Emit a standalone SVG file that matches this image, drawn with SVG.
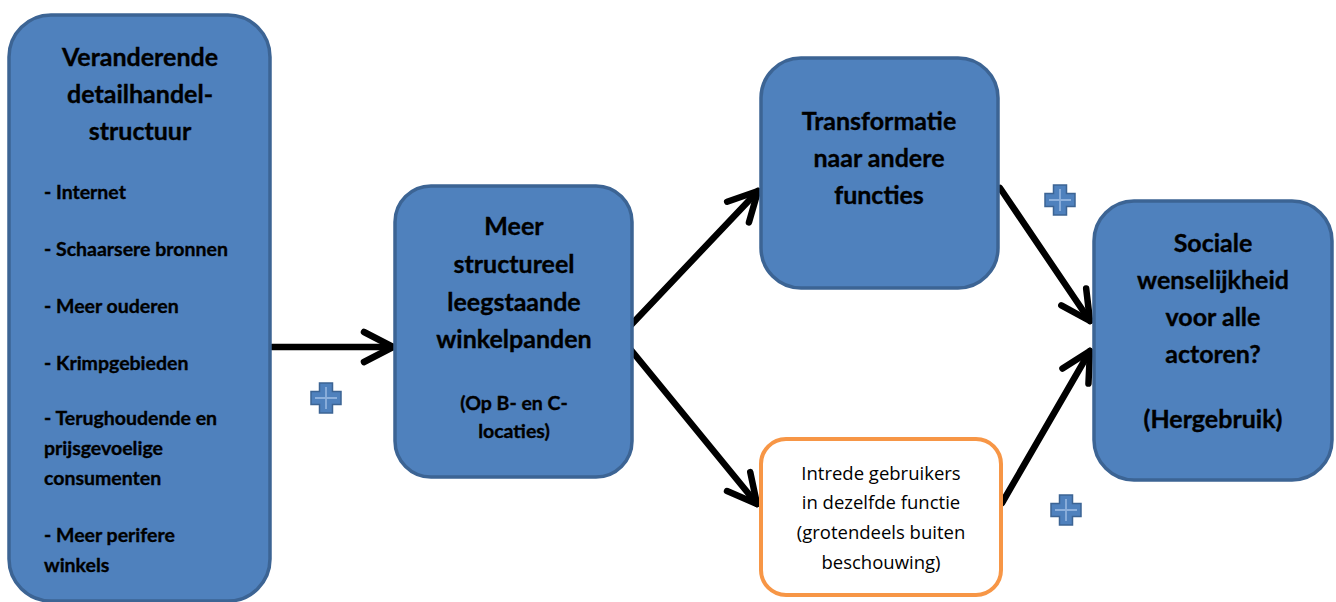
<svg xmlns="http://www.w3.org/2000/svg" width="1336" height="602" viewBox="0 0 1336 602">
<style>
.box{fill:#4f81bd;stroke:#3c6494;stroke-width:3.5}
.obox{fill:#ffffff;stroke:#f79646;stroke-width:4}
.t{font-family:Lato,"Liberation Sans",sans-serif;font-weight:bold;fill:#000;stroke:#000;stroke-width:0.35;text-anchor:middle}
.big{font-size:25px}
.sm{font-size:19.5px}
.l{text-anchor:start}
.n{font-family:"Open Sans","Liberation Sans",sans-serif;font-size:18.5px;fill:#000;text-anchor:middle}
.arr{stroke:#000;stroke-width:6.5;fill:none;stroke-linecap:round;stroke-linejoin:round;marker-end:url(#chev)}
</style>
<defs>
<marker id="chev" markerUnits="userSpaceOnUse" viewBox="-34 -20 40 40" markerWidth="40" markerHeight="40" refX="0" refY="0" orient="auto">
<path d="M-29,-15 L0,0 L-29,15" fill="none" stroke="#000" stroke-width="6.5" stroke-linecap="round" stroke-linejoin="round"/>
</marker>
<g id="plus">
<path d="M-6.5,-15 h13 v8.5 h8.5 v13 h-8.5 v8.5 h-13 v-8.5 h-8.5 v-13 h8.5 z" fill="#4f81bd" stroke="#3c6494" stroke-width="1.5"/>
<path d="M0,-11 V11 M-11,0 H11" stroke="#8db0dc" stroke-width="1.8"/>
</g>
</defs>

<g id="connectors">
<line class="arr" x1="272" y1="347" x2="393" y2="347"/>
<line class="arr" x1="631" y1="325" x2="758" y2="191"/>
<line class="arr" x1="631" y1="350" x2="757" y2="504"/>
<line class="arr" x1="1000" y1="188" x2="1090" y2="321"/>
<line class="arr" x1="1002" y1="503" x2="1090" y2="351"/>
</g>

<g id="n1">
<rect class="box" x="9" y="15" width="261" height="586" rx="42"/>
<text class="t big" x="140" y="66">Veranderende</text>
<text class="t big" x="140" y="103">detailhandel-</text>
<text class="t big" x="140" y="140">structuur</text>
<text class="t sm l" x="44" y="199">- Internet</text>
<text class="t sm l" x="44" y="256">- Schaarsere bronnen</text>
<text class="t sm l" x="44" y="313">- Meer ouderen</text>
<text class="t sm l" x="44" y="370">- Krimpgebieden</text>
<text class="t sm l" x="44" y="425">- Terughoudende en</text>
<text class="t sm l" x="44" y="455">prijsgevoelige</text>
<text class="t sm l" x="44" y="485">consumenten</text>
<text class="t sm l" x="44" y="542">- Meer perifere</text>
<text class="t sm l" x="44" y="572">winkels</text>
</g>

<g id="n2">
<rect class="box" x="395" y="186" width="237" height="291" rx="36"/>
<text class="t big" x="514" y="235">Meer</text>
<text class="t big" x="514" y="273">structureel</text>
<text class="t big" x="514" y="311">leegstaande</text>
<text class="t big" x="514" y="348">winkelpanden</text>
<text class="t sm" x="514" y="410">(Op B- en C-</text>
<text class="t sm" x="514" y="438">locaties)</text>
</g>

<g id="n3">
<rect class="box" x="761" y="58" width="237" height="230" rx="40"/>
<text class="t big" x="879" y="130">Transformatie</text>
<text class="t big" x="879" y="167">naar andere</text>
<text class="t big" x="879" y="204">functies</text>
</g>

<g id="n4">
<rect class="obox" x="761" y="439" width="240" height="156" rx="25"/>
<text class="n" x="881" y="480">Intrede gebruikers</text>
<text class="n" x="881" y="509">in dezelfde functie</text>
<text class="n" x="881" y="539">(grotendeels buiten</text>
<text class="n" x="881" y="569">beschouwing)</text>
</g>

<g id="n5">
<rect class="box" x="1094" y="201" width="238" height="279" rx="40"/>
<text class="t big" x="1213" y="252">Sociale</text>
<text class="t big" x="1213" y="289">wenselijkheid</text>
<text class="t big" x="1213" y="326">voor alle</text>
<text class="t big" x="1213" y="363">actoren?</text>
<text class="t big" x="1213" y="428">(Hergebruik)</text>
</g>

<g id="plus-signs">
<use href="#plus" x="326" y="398"/>
<use href="#plus" x="1060" y="200"/>
<use href="#plus" x="1066" y="510"/>
</g>
</svg>
